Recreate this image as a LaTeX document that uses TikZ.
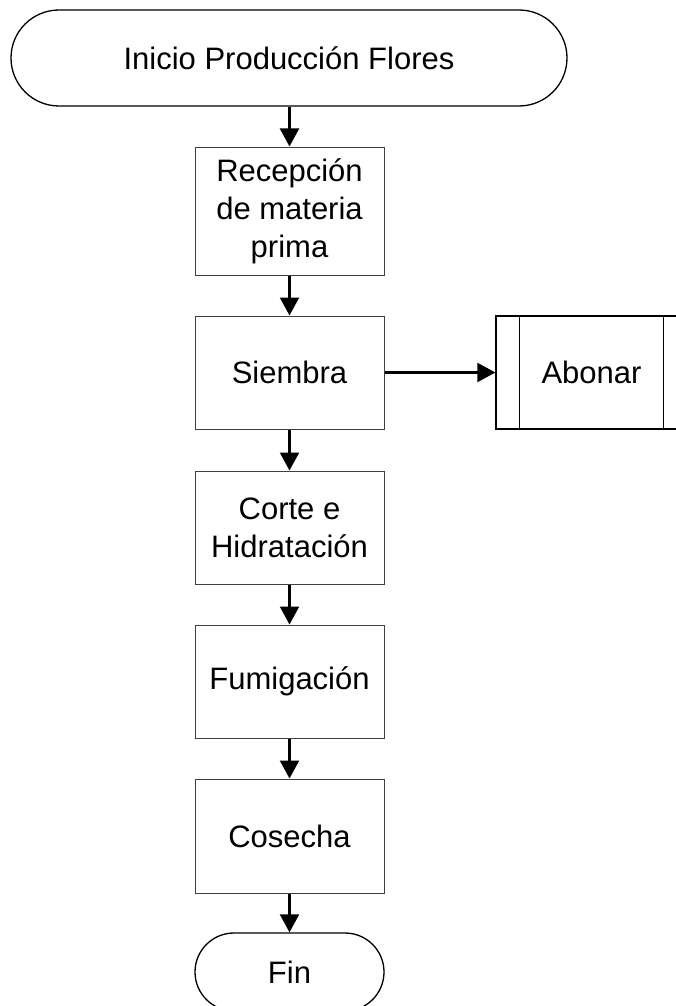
\documentclass[tikz,border=0pt]{standalone}
\usepackage{fontspec}
\setmainfont{Liberation Sans}
\usetikzlibrary{arrows.meta}
\begin{document}
\begin{tikzpicture}[x=1pt,y=-1pt,
  every node/.style={font=\fontsize{31}{38}\selectfont, align=center, inner sep=0pt},
  term/.style={draw=black, line width=1.3pt, rounded corners=#1},
  proc/.style={draw=black!75, line width=1pt, minimum width=189pt},
  sub/.style={draw=black, line width=1.3pt, minimum width=191pt, minimum height=113pt},
  conn/.style={line width=2.2pt, -{Triangle[length=18pt,width=19pt]}}
]
\useasboundingbox (0,0) rectangle (676,1006);
\clip (0,0) rectangle (676,1006);
\node[term=48pt, minimum width=556pt, minimum height=96pt] (start) at (289,58) {Inicio Producción Flores};
\node[proc, minimum height=128pt] (rec) at (289.5,211) {Recepción\\de materia\\prima};
\node[proc, minimum height=113pt] (siem) at (289.5,372.5) {Siembra};
\node[proc, minimum height=113pt] (corte) at (289.5,527.5) {Corte e\\Hidratación};
\node[proc, minimum height=113pt] (fum) at (289.5,681.5) {Fumigación};
\node[proc, minimum height=114pt] (cos) at (289.5,836) {Cosecha};
\node[term=39pt, minimum width=189pt, minimum height=78pt] (fin) at (289.5,972) {Fin};
\node[sub] (ab) at (591.5,372.5) {Abonar};
\draw[line width=1.3pt] ([xshift=24pt]ab.north west) -- ([xshift=24pt]ab.south west);
\draw[line width=1.3pt] ([xshift=-24pt]ab.north east) -- ([xshift=-24pt]ab.south east);
\draw[conn] (start.south -| rec.north) -- (rec.north);
\draw[conn] (rec) -- (siem);
\draw[conn] (siem) -- (corte);
\draw[conn] (corte) -- (fum);
\draw[conn] (fum) -- (cos);
\draw[conn] (cos) -- (fin);
\draw[conn] (siem) -- (ab);
\end{tikzpicture}
\end{document}
